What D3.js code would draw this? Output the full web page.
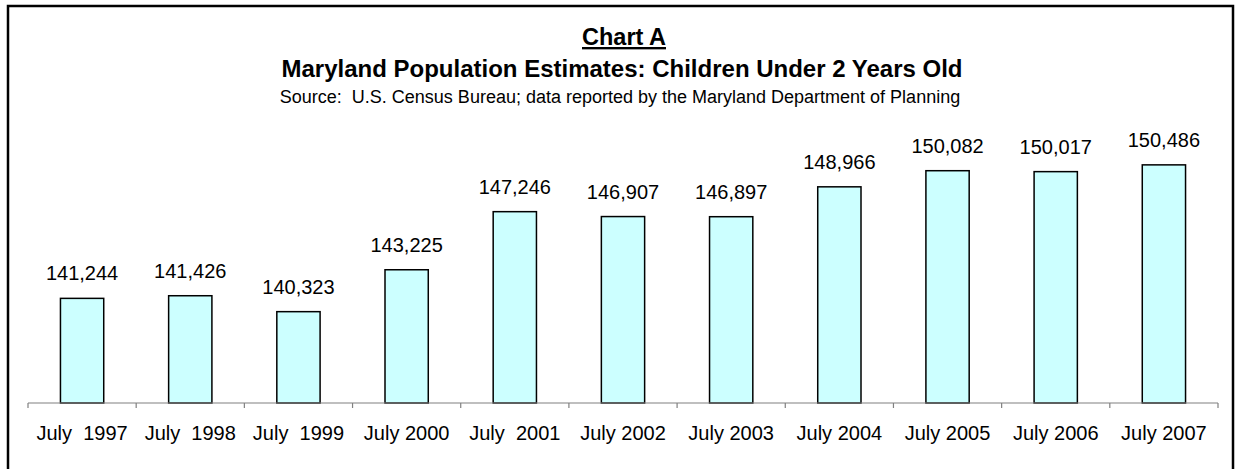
<!DOCTYPE html>
<html>
<head>
<meta charset="utf-8">
<script src="https://cdn.jsdelivr.net/npm/d3@7"></script>
<style>
  body { margin: 0; background: #fff; }
  svg text { font-family: "Liberation Sans", Arial, sans-serif; white-space: pre; }
</style>
</head>
<body>
<div id="chart"></div>
<script>
// chart values
const categories = ['July  1997', 'July  1998', 'July  1999', 'July 2000', 'July  2001', 'July 2002',
                    'July 2003', 'July 2004', 'July 2005', 'July 2006', 'July 2007'];
const population = [141244, 141426, 140323, 143225, 147246, 146907, 146897, 148966, 150082, 150017, 150486];
const yDomain = [134000, 152000];

const width = 1236;
const height = 469;

const svg = d3.select('#chart')
    .append('svg')
    .attr('width', width)
    .attr('height', height);

// outer frame (bottom edge runs off the picture)
svg.append('rect')
    .attr('x', 8).attr('y', 6)
    .attr('width', 1225).attr('height', 480)
    .attr('fill', 'none')
    .attr('stroke', '#000')
    .attr('stroke-width', 2.5);

// titles
svg.append('text')
    .attr('x', 624).attr('y', 45)
    .attr('text-anchor', 'middle')
    .attr('font-size', 23.5).attr('font-weight', 'bold')
    .attr('text-decoration', 'underline')
    .text('Chart A');

svg.append('text')
    .attr('x', 622).attr('y', 77)
    .attr('text-anchor', 'middle')
    .attr('font-size', 24).attr('font-weight', 'bold')
    .text('Maryland Population Estimates: Children Under 2 Years Old');

svg.append('text')
    .attr('x', 620).attr('y', 103)
    .attr('text-anchor', 'middle')
    .attr('font-size', 18)
    .text('Source:  U.S. Census Bureau; data reported by the Maryland Department of Planning');

const x = d3.scaleBand()
    .domain(categories)
    .range([28, 1218])
    .paddingInner(0.6)
    .paddingOuter(0.3);

const y = d3.scaleLinear()
    .domain(yDomain)
    .range([403, 143]);

// bars
svg.selectAll('rect.bar')
    .data(population)
    .enter()
    .append('rect')
    .attr('class', 'bar')
    .attr('x', (d, i) => x(categories[i]))
    .attr('y', d => y(d))
    .attr('width', x.bandwidth())
    .attr('height', d => y(yDomain[0]) - y(d))
    .attr('fill', '#ccffff')
    .attr('stroke', '#000')
    .attr('stroke-width', 1.5);

// value labels
svg.selectAll('text.val')
    .data(population)
    .enter()
    .append('text')
    .attr('class', 'val')
    .attr('x', (d, i) => x(categories[i]) + x.bandwidth() / 2)
    .attr('y', d => y(d) - 18)
    .attr('text-anchor', 'middle')
    .attr('font-size', 20)
    .text(d => d3.format(',')(d));

// category axis: line, ticks between categories, labels
const x0 = x.range()[0];
const step = x.step();
const axisY = y(yDomain[0]);

svg.append('line')
    .attr('x1', x0).attr('x2', x.range()[1])
    .attr('y1', axisY).attr('y2', axisY)
    .attr('stroke', '#808080').attr('stroke-width', 1.2);

svg.selectAll('line.tick')
    .data(d3.range(categories.length + 1))
    .enter()
    .append('line')
    .attr('class', 'tick')
    .attr('x1', i => x0 + i * step).attr('x2', i => x0 + i * step)
    .attr('y1', axisY).attr('y2', axisY + 5)
    .attr('stroke', '#808080').attr('stroke-width', 1.2);

svg.selectAll('text.cat')
    .data(categories)
    .enter()
    .append('text')
    .attr('class', 'cat')
    .attr('x', d => x(d) + x.bandwidth() / 2)
    .attr('y', 440)
    .attr('text-anchor', 'middle')
    .attr('font-size', 20)
    .text(d => d);
</script>
</body>
</html>
